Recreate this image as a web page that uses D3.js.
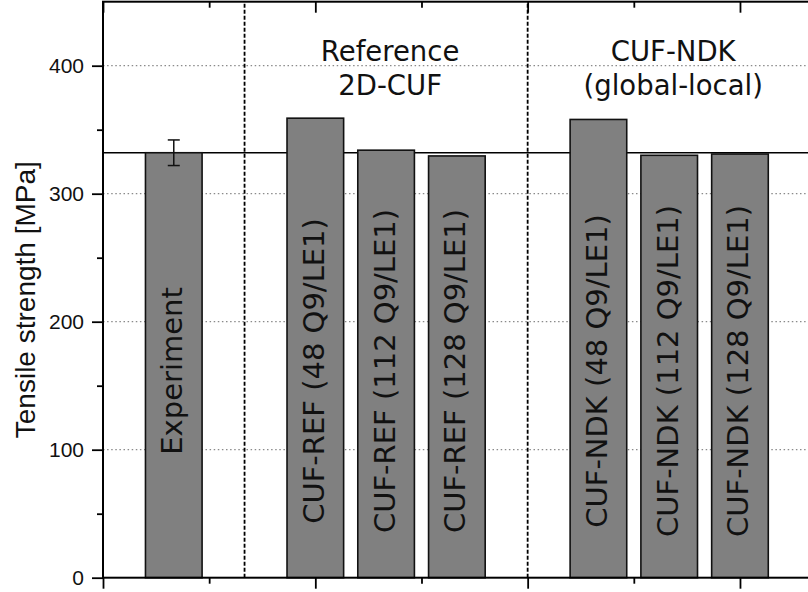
<!DOCTYPE html>
<html>
<head>
<meta charset="utf-8">
<script src="https://cdn.jsdelivr.net/npm/d3@7"></script>
<style>
  html, body { margin: 0; padding: 0; background: #fff; }
  svg { display: block; }
</style>
</head>
<body>
<svg id="chart" width="808" height="592"></svg>
<script>
// ---- data ----
const categories = [
  "Experiment",
  "CUF-REF (48 Q9/LE1)",
  "CUF-REF (112 Q9/LE1)",
  "CUF-REF (128 Q9/LE1)",
  "CUF-NDK (48 Q9/LE1)",
  "CUF-NDK (112 Q9/LE1)",
  "CUF-NDK (128 Q9/LE1)"
];
const values = [332, 359, 334, 329.5, 358, 330, 331];
const errors = [10, 0, 0, 0, 0, 0, 0];
const groupOf = [0, 1, 1, 1, 2, 2, 2];
const groupLabels = [[], ["Reference", "2D-CUF"], ["CUF-NDK", "(global-local)"]];
const referenceValue = 332;
const yMajorTicks = [0, 100, 200, 300, 400];
const yMinorTicks = [50, 150, 250, 350];

// ---- layout ----
const svg = d3.select("#chart");
const pLeft = 103, pRight = 810.75, pTop = 1.7, pBottom = 577.7;

const slots = categories.map((c, i) => i + groupOf[i]);
const x = d3.scaleLinear().domain([-1, 9]).range([pLeft, pRight]);
const y = d3.scaleLinear().domain([0, 450]).range([pBottom, pTop]);
const barW = x(0.8) - x(0);

const xMajor = d3.range(-1, 9.01, 3);
const xMinor = d3.range(0.5, 9.01, 3);

// grid lines
svg.append("g").selectAll("line").data(yMajorTicks.filter(d => d > 0)).join("line")
  .attr("x1", pLeft).attr("x2", pRight)
  .attr("y1", d => y(d)).attr("y2", d => y(d))
  .attr("stroke", "#8a8a8a").attr("stroke-width", 1.3)
  .attr("stroke-dasharray", "1.5,2.6");

// group separators
const separators = [];
for (let i = 1; i < categories.length; i++) {
  if (groupOf[i] !== groupOf[i - 1]) separators.push(slots[i] - 1);
}
svg.append("g").selectAll("line").data(separators).join("line")
  .attr("x1", d => x(d)).attr("x2", d => x(d))
  .attr("y1", pBottom).attr("y2", pTop)
  .attr("stroke", "#000").attr("stroke-width", 1.8)
  .attr("stroke-dasharray", "4,2");

// reference line
svg.append("line")
  .attr("x1", pLeft).attr("x2", pRight)
  .attr("y1", y(referenceValue)).attr("y2", y(referenceValue))
  .attr("stroke", "#000").attr("stroke-width", 1.6);

// bars
svg.append("g").selectAll("rect").data(values).join("rect")
  .attr("x", (d, i) => x(slots[i]) - barW / 2)
  .attr("width", barW)
  .attr("y", d => y(d))
  .attr("height", d => y(0) - y(d))
  .attr("fill", "#808080")
  .attr("stroke", "#111").attr("stroke-width", 1.6);

// error bars
const eg = svg.append("g").attr("stroke", "#111").attr("stroke-width", 1.5);
values.forEach((v, i) => {
  if (!errors[i]) return;
  const cx = x(slots[i]);
  eg.append("line").attr("x1", cx).attr("x2", cx).attr("y1", y(v - errors[i])).attr("y2", y(v + errors[i]));
  eg.append("line").attr("x1", cx - 6).attr("x2", cx + 6).attr("y1", y(v - errors[i])).attr("y2", y(v - errors[i]));
  eg.append("line").attr("x1", cx - 6).attr("x2", cx + 6).attr("y1", y(v + errors[i])).attr("y2", y(v + errors[i]));
});

// bar labels (rotated)
svg.append("g").selectAll("text").data(categories).join("text")
  .attr("transform", (d, i) => `translate(${x(slots[i]) + 8.5},${y(161.5)}) rotate(-90)`)
  .attr("text-anchor", "middle")
  .attr("font-family", "'DejaVu Sans', sans-serif")
  .attr("font-size", 29)
  .attr("fill", "#111")
  .text(d => d);

// group labels
groupLabels.forEach((lines, g) => {
  if (!lines.length) return;
  const gs = slots.filter((s, i) => groupOf[i] === g);
  const cx = x(d3.mean(gs)) + 4;
  lines.forEach((t, k) => {
    svg.append("text")
      .attr("x", cx).attr("y", 61 + k * 33.5)
      .attr("text-anchor", "middle")
      .attr("font-family", "'DejaVu Sans', sans-serif")
      .attr("font-size", 27.5)
      .attr("fill", "#111")
      .text(t);
  });
});

// axes
const axisStyle = g => {
  g.select(".domain").remove();
  g.selectAll("line").attr("stroke", "#000").attr("stroke-width", 1.8);
};
svg.append("g").attr("transform", `translate(${pLeft},0)`)
  .call(d3.axisLeft(y).tickValues(yMajorTicks).tickSize(11).tickPadding(8).tickFormat(d3.format("d")))
  .call(axisStyle)
  .call(g => g.selectAll("text").attr("font-family", "'Liberation Sans', Arial, sans-serif").attr("font-size", 21).attr("fill", "#111"));
svg.append("g").attr("transform", `translate(${pLeft},0)`)
  .call(d3.axisLeft(y).tickValues(yMinorTicks).tickSize(6).tickFormat(""))
  .call(axisStyle);
svg.append("g").attr("transform", `translate(${pRight},0)`)
  .call(d3.axisLeft(y).tickValues(yMajorTicks).tickSize(-11).tickFormat(""))
  .call(axisStyle);
svg.append("g").attr("transform", `translate(${pRight},0)`)
  .call(d3.axisLeft(y).tickValues(yMinorTicks).tickSize(-6).tickFormat(""))
  .call(axisStyle);
svg.append("g").attr("transform", `translate(0,${pBottom})`)
  .call(d3.axisBottom(x).tickValues(xMajor).tickSize(11).tickFormat(""))
  .call(axisStyle);
svg.append("g").attr("transform", `translate(0,${pBottom})`)
  .call(d3.axisBottom(x).tickValues(xMinor).tickSize(6).tickFormat(""))
  .call(axisStyle);
svg.append("g").attr("transform", `translate(0,${pTop})`)
  .call(d3.axisTop(x).tickValues(xMajor).tickSize(-11).tickFormat(""))
  .call(axisStyle);
svg.append("g").attr("transform", `translate(0,${pTop})`)
  .call(d3.axisTop(x).tickValues(xMinor).tickSize(-6).tickFormat(""))
  .call(axisStyle);

// frame
svg.append("rect")
  .attr("x", pLeft).attr("y", pTop)
  .attr("width", pRight - pLeft).attr("height", pBottom - pTop)
  .attr("fill", "none").attr("stroke", "#000").attr("stroke-width", 2);

// y title
svg.append("text")
  .attr("transform", `translate(35,${(pTop + pBottom) / 2 + 10}) rotate(-90)`)
  .attr("text-anchor", "middle")
  .attr("font-family", "'Liberation Sans', Arial, sans-serif")
  .attr("font-size", 28)
  .attr("fill", "#111")
  .text("Tensile strength [MPa]");
</script>
</body>
</html>
